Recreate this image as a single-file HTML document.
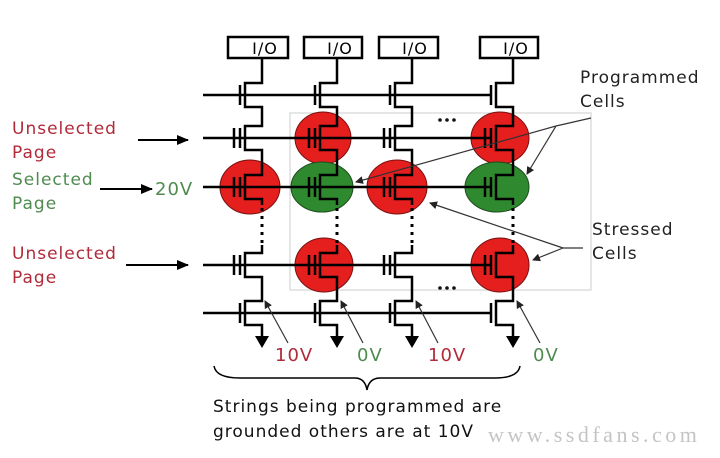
<!DOCTYPE html>
<html><head><style>
html,body{margin:0;padding:0;background:#fff;}
svg{display:block;}
text{font-family:"DejaVu Sans","Liberation Sans",sans-serif;letter-spacing:1px;}
text.wm{font-family:"Liberation Serif",serif;letter-spacing:3.5px;}
</style></head><body>
<svg width="720" height="458" viewBox="0 0 720 458" xmlns="http://www.w3.org/2000/svg">
<defs>
<marker id="a" markerWidth="8" markerHeight="8" refX="7" refY="4" orient="auto" markerUnits="userSpaceOnUse"><path d="M0,0 L8,4 L0,8 z" fill="#222"/></marker>
<marker id="b" markerWidth="12" markerHeight="10" refX="11" refY="5" orient="auto" markerUnits="userSpaceOnUse"><path d="M0,0 L12,5 L0,10 z" fill="#000"/></marker>
</defs>
<rect x="290" y="113" width="301" height="177" fill="none" stroke="#ddd" stroke-width="1.5"/>
<g stroke="#7a1010" stroke-width="1">
<ellipse cx="250" cy="187" rx="30" ry="27" fill="#e51e1e"/>
<ellipse cx="323" cy="138" rx="28" ry="26" fill="#e51e1e"/>
<ellipse cx="397" cy="187" rx="30" ry="27" fill="#e51e1e"/>
<ellipse cx="500" cy="138" rx="29" ry="26" fill="#e51e1e"/>
<ellipse cx="324" cy="265" rx="29" ry="27" fill="#e51e1e"/>
<ellipse cx="500" cy="265" rx="29" ry="27" fill="#e51e1e"/>
</g>
<g stroke="#1e4d1e" stroke-width="1">
<ellipse cx="322" cy="187" rx="31" ry="25" fill="#2f8a2f"/>
<ellipse cx="497" cy="187" rx="32" ry="25" fill="#2f8a2f"/>
</g>
<g fill="#fff" stroke="#000" stroke-width="2.5">
<rect x="228" y="37" width="60" height="21"/>
<rect x="304" y="37" width="58" height="21"/>
<rect x="379" y="37" width="59" height="21"/>
<rect x="480" y="37" width="58" height="21"/>
</g>
<g font-size="16" text-anchor="middle" fill="#000">
<text x="265" y="54">I/O</text><text x="340" y="54">I/O</text><text x="415" y="54">I/O</text><text x="516" y="54">I/O</text>
</g>
<g stroke="#000" stroke-width="2.5">
<line x1="203" y1="95" x2="490" y2="95"/>
<line x1="203" y1="138" x2="490" y2="138"/>
<line x1="203" y1="187" x2="490" y2="187"/>
<line x1="203" y1="265" x2="490" y2="265"/>
<line x1="203" y1="313" x2="490" y2="313"/>
</g>
<g fill="none" stroke="#000" stroke-width="2.5">
<path id="s" d="M262,58 L262,83 L245,83 L245,107 L262,107 L262,126 L245,126 L245,150 L262,150 L262,175 L245,175 L245,199 L262,199 L262,205 M262,245 L262,253 L245,253 L245,277 L262,277 L262,301 L245,301 L245,325 L262,325 L262,338"/>
<use href="#s" x="75"/><use href="#s" x="150"/><use href="#s" x="251"/>
</g>
<g fill="none" stroke="#000" stroke-width="3" stroke-dasharray="3,5">
<line x1="262" y1="208" x2="262" y2="245"/><line x1="337" y1="208" x2="337" y2="245"/><line x1="412" y1="208" x2="412" y2="245"/><line x1="513" y1="208" x2="513" y2="245"/>
</g>
<g fill="#000">
<path id="g" d="M255,336 L269,336 L262,348 z"/>
<use href="#g" x="75"/><use href="#g" x="150"/><use href="#g" x="251"/>
</g>
<g stroke="#000" stroke-width="2.5">
<path id="gc" d="M240,85 V105 M240,128 V148 M234,128 V148 M240,177 V197 M234,177 V197 M240,255 V275 M234,255 V275 M240,303 V323"/>
<use href="#gc" x="75"/><use href="#gc" x="150"/><use href="#gc" x="251"/>
</g>
<g fill="#111">
<circle cx="440" cy="120" r="1.8"/><circle cx="447" cy="120" r="1.8"/><circle cx="454" cy="120" r="1.8"/>
<circle cx="440" cy="288" r="1.8"/><circle cx="447" cy="288" r="1.8"/><circle cx="454" cy="288" r="1.8"/>
</g>
<g font-size="17">
<text x="12" y="134" fill="#b02a3a">Unselected</text><text x="12" y="158" fill="#b02a3a">Page</text>
<text x="12" y="185" fill="#4f8a4f">Selected</text><text x="12" y="209" fill="#4f8a4f">Page</text>
<text x="12" y="259" fill="#b02a3a">Unselected</text><text x="12" y="283" fill="#b02a3a">Page</text>
<text x="155" y="195" fill="#4f8a4f" font-size="18">20V</text>
</g>
<g stroke="#000" stroke-width="2" marker-end="url(#b)">
<line x1="138" y1="140" x2="188" y2="140"/>
<line x1="100" y1="189" x2="152" y2="189"/>
<line x1="126" y1="265" x2="188" y2="265"/>
</g>
<g font-size="17" fill="#222">
<text x="580" y="83">Programmed</text><text x="580" y="107">Cells</text>
<text x="592" y="235">Stressed</text><text x="592" y="259">Cells</text>
</g>
<g stroke="#333" stroke-width="1.2" fill="none">
<line x1="591" y1="118" x2="556" y2="126"/>
<line x1="556" y1="126" x2="356" y2="182" marker-end="url(#a)"/>
<line x1="556" y1="126" x2="527" y2="174" marker-end="url(#a)"/>
<line x1="583" y1="248" x2="563" y2="248"/>
<line x1="563" y1="248" x2="430" y2="203" marker-end="url(#a)"/>
<line x1="563" y1="248" x2="533" y2="260" marker-end="url(#a)"/>
<line x1="288" y1="343" x2="265" y2="301" marker-end="url(#a)"/>
<line x1="363" y1="343" x2="341" y2="301" marker-end="url(#a)"/>
<line x1="438" y1="343" x2="416" y2="301" marker-end="url(#a)"/>
<line x1="540" y1="343" x2="517" y2="301" marker-end="url(#a)"/>
</g>
<g font-size="18">
<text x="275" y="361" fill="#b02a3a">10V</text>
<text x="357" y="361" fill="#4f8a4f">0V</text>
<text x="428" y="361" fill="#b02a3a">10V</text>
<text x="533" y="361" fill="#4f8a4f">0V</text>
</g>
<path d="M214,366 Q216,378 240,378 L355,378 Q365,378 367,390 Q369,378 380,378 L495,378 Q518,378 520,366" fill="none" stroke="#000" stroke-width="1.5"/>
<g font-size="17" fill="#111">
<text x="213" y="412">Strings being programmed are</text>
<text x="213" y="437">grounded others are at 10V</text>
</g>
<text class="wm" x="488" y="442" font-size="22" fill="#c4c4c4">www.ssdfans.com</text>
</svg>
</body></html>
